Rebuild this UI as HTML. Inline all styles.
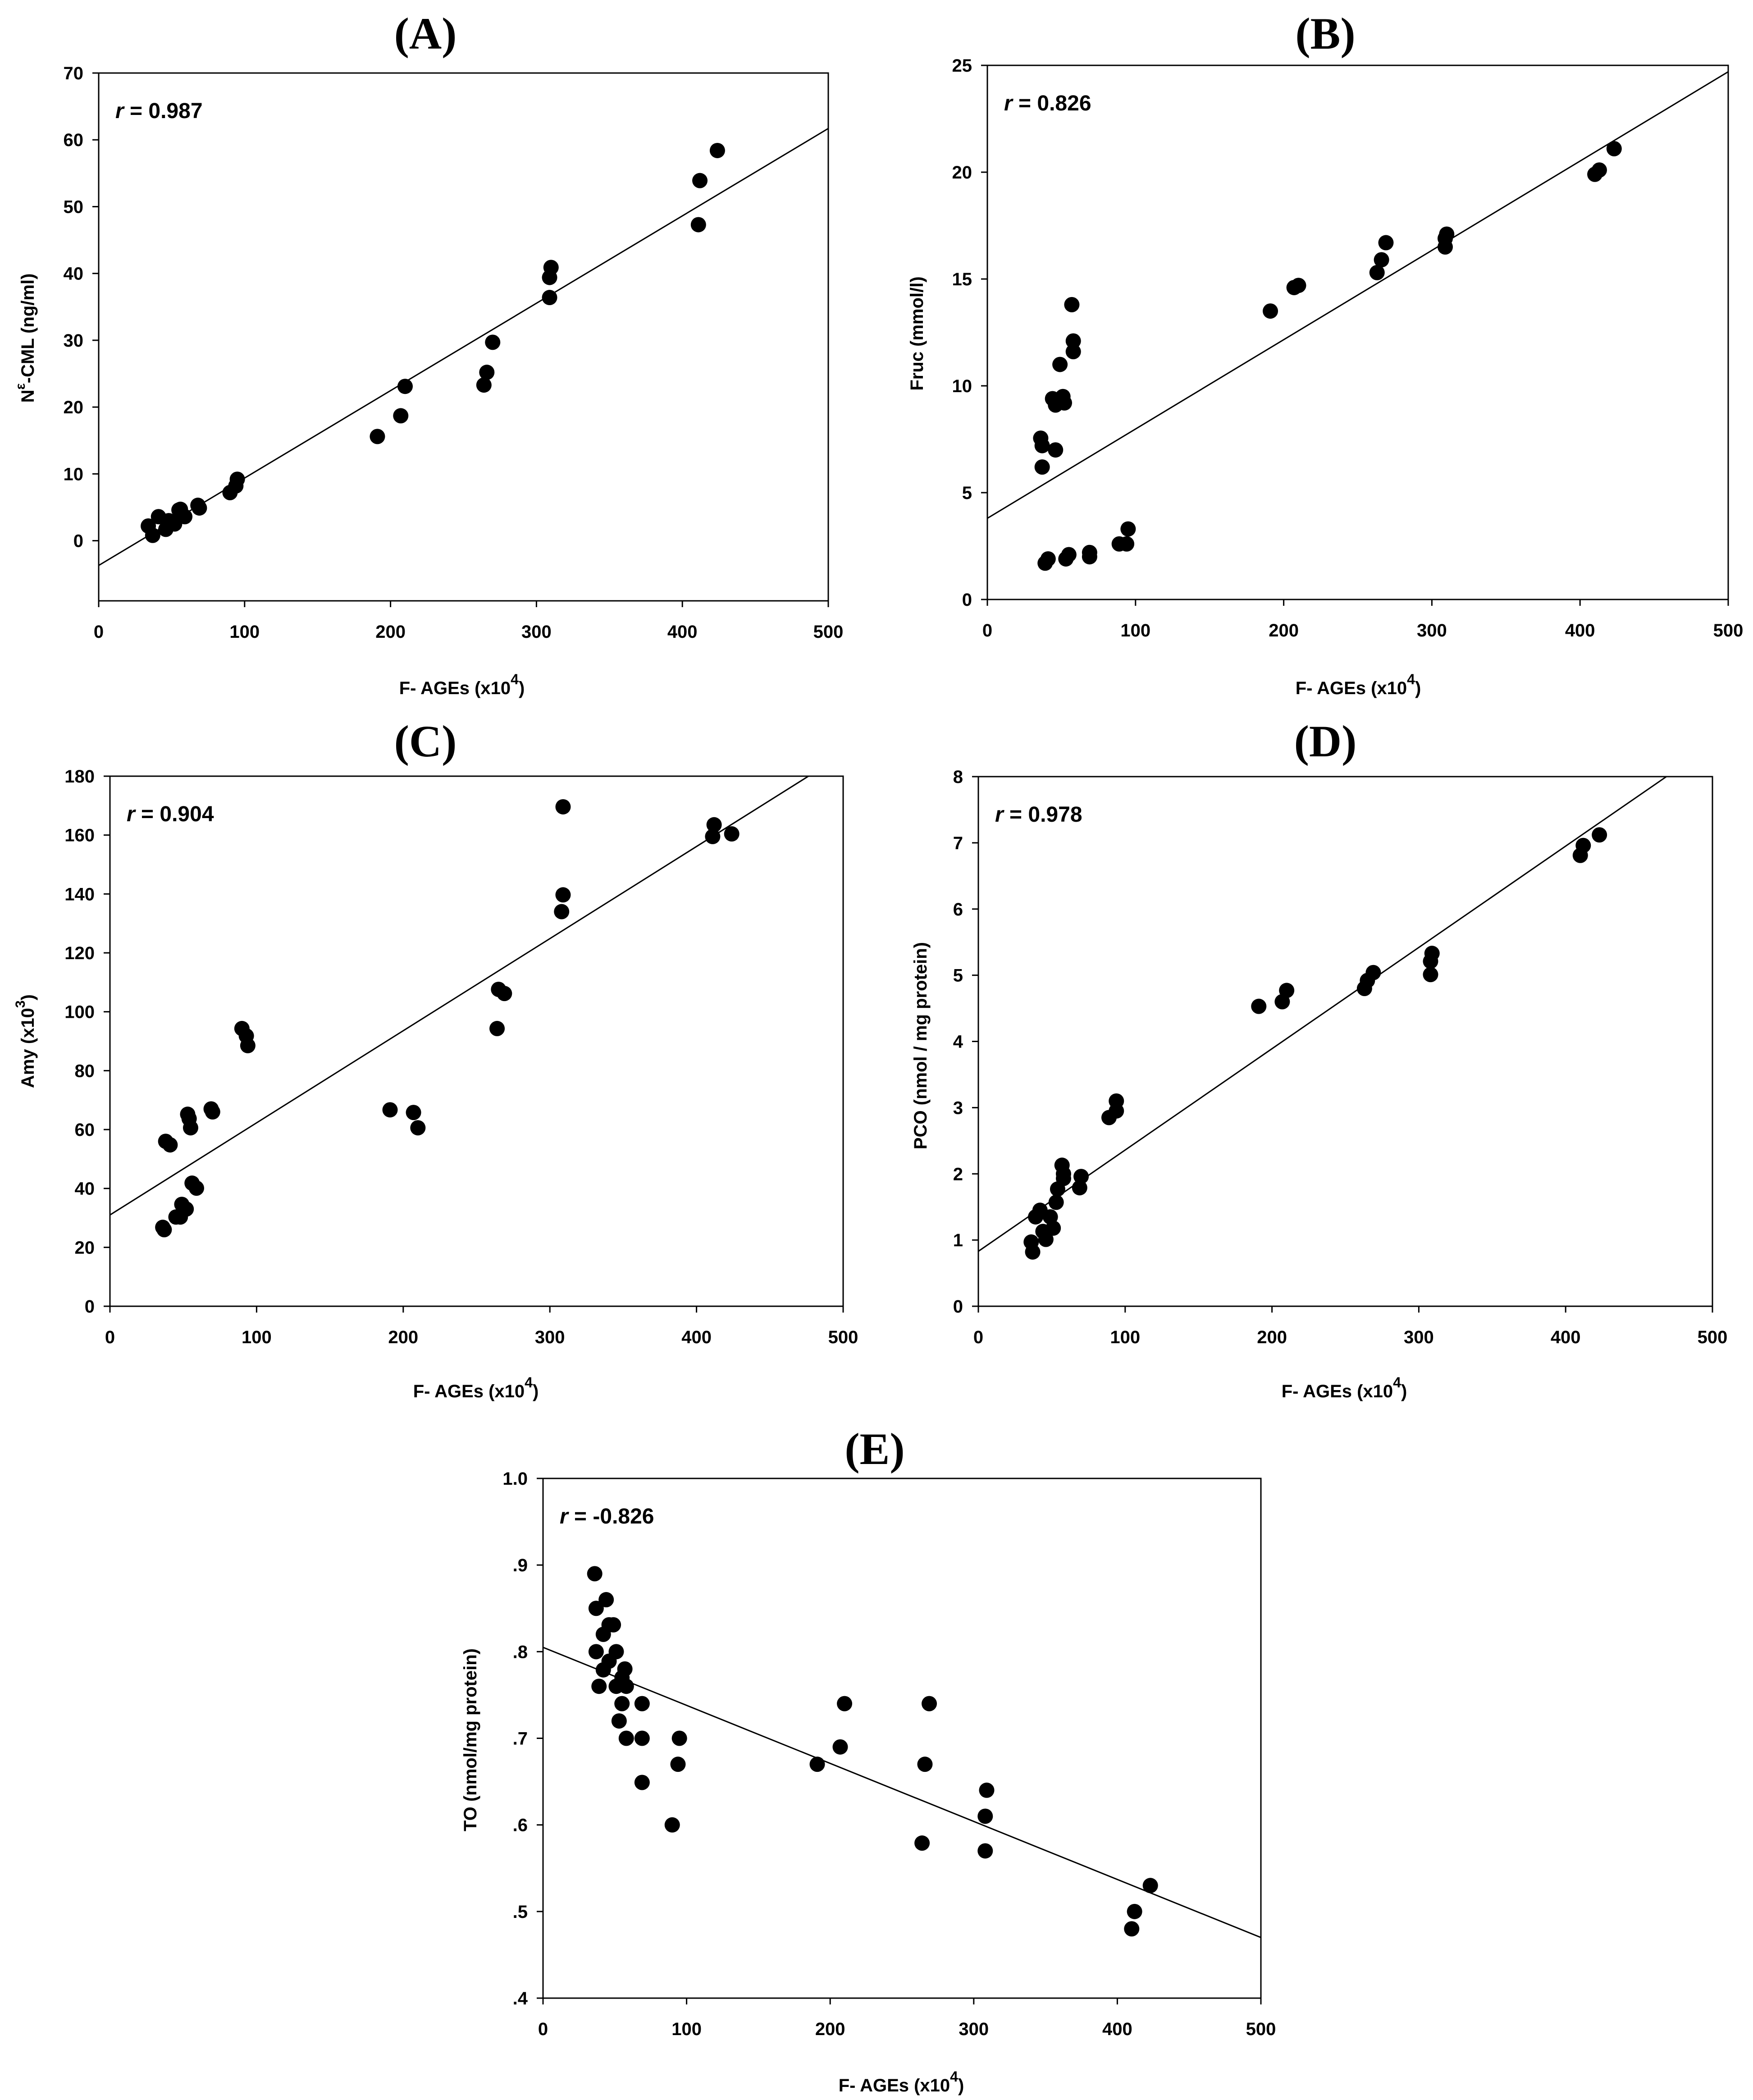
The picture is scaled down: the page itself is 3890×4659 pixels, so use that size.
<!DOCTYPE html>
<html><head><meta charset="utf-8"><style>
html,body{margin:0;padding:0;background:#fff;}
svg{display:block;}
.tick{font-family:"Liberation Sans",Arial,sans-serif;font-weight:bold;font-size:40px;fill:#000;}
.ttl{font-family:"Liberation Serif","Times New Roman",serif;font-weight:bold;font-size:100px;fill:#000;}
.axt{font-family:"Liberation Sans",Arial,sans-serif;font-weight:bold;font-size:40px;fill:#000;}
.rlab{font-family:"Liberation Sans",Arial,sans-serif;font-weight:bold;font-size:48px;fill:#000;}
</style></head><body>
<svg id="fig" width="3890" height="4659" viewBox="0 0 3890 4659" xmlns="http://www.w3.org/2000/svg"></svg>
<script>
// ---- Data (x = F-AGEs x10^4) ----
const aX = [34,37,41,46,48,52,55,56,59,69,68,90,95,94,191,207,210,264,266,270,309,309,310,411,412,424];
const aY = [2.2,0.8,3.6,1.7,3.0,2.5,4.6,4.7,3.6,4.9,5.3,7.2,9.2,8.2,15.6,18.7,23.1,23.3,25.2,29.7,36.4,39.4,40.9,47.3,53.9,58.4];
const aLine = [-3.7,61.7];
const bX = [36,37,37,46,44,46,51,52,49,57,58,58,39,41,53,55,69,69,89,94,95,191,207,210,263,266,269,309,309,310,410,413,423];
const bY = [7.55,7.2,6.2,7.0,9.4,9.1,9.5,9.2,11.0,13.8,12.1,11.6,1.7,1.9,1.9,2.1,2.2,2.0,2.6,2.6,3.3,13.5,14.6,14.7,15.3,15.9,16.7,16.5,16.9,17.1,19.9,20.1,21.1];
const bLine = [3.8,24.7];
const cX = [36,37,38,41,45,48,49,52,53,54,55,56,59,69,70,90,93,94,191,207,210,264,265,269,308,309,309,411,412,424];
const cY = [26.8,26,56,54.8,30.3,30.3,34.6,33,65.2,63.7,60.6,41.8,40.1,67,66,94.3,91.8,88.5,66.7,65.8,60.6,94.3,107.6,106.2,134,139.7,169.6,159.5,163.5,160.4];
const cLine = [31,187.4];
const dX = [36,37,39,42,44,46,49,51,53,54,57,58,58,69,70,89,94,94,191,207,210,263,265,269,308,308,309,410,412,423];
const dY = [0.97,0.82,1.35,1.45,1.13,1.01,1.35,1.18,1.57,1.77,2.13,2.0,1.93,1.79,1.96,2.85,2.95,3.1,4.53,4.6,4.77,4.8,4.92,5.04,5.01,5.21,5.33,6.81,6.96,7.12];
const dLine = [0.83,8.48];
const eX = [36,37,37,39,42,42,44,46,46,49,51,51,53,55,55,57,58,58,69,69,69,90,94,95,191,207,210,264,266,269,308,308,309,410,412,423];
const eY = [.890,.850,.800,.760,.820,.779,.860,.831,.789,.831,.800,.760,.720,.740,.770,.780,.760,.700,.740,.700,.649,.600,.670,.700,.670,.690,.740,.579,.670,.740,.570,.610,.640,.480,.500,.530];
const eLine = [.805,.470];
const xTicks = [0,100,200,300,400,500];
const aTicks = [0,10,20,30,40,50,60,70];
const bTicks = [0,5,10,15,20,25];
const cTicks = [0,20,40,60,80,100,120,140,160,180];
const dTicks = [0,1,2,3,4,5,6,7,8];
const eTicks = [.4,.5,.6,.7,.8,.9,1.0];
const eTickLabels = [".4",".5",".6",".7",".8",".9","1.0"];

const NS = "http://www.w3.org/2000/svg";
const fig = document.getElementById('fig');
function mk(tag, attrs, parent){const e=document.createElementNS(NS,tag);for(const k in attrs)e.setAttribute(k,attrs[k]);(parent||fig).appendChild(e);return e;}

function panel(p){
  const g = mk('g',{});
  
  
  const sx = v => p.x0 + (v - 0)/(500)*(p.x1-p.x0);
  const sy = v => p.yb + (v - p.ymin)/(p.ymax-p.ymin)*(p.yt-p.yb);
  const t = mk('text',{x:p.tx,y:p.ty,'text-anchor':'middle',class:'ttl'},g);
  t.textContent = '('+p.id.toUpperCase()+')';
  
  
  const fr = mk('rect',{x:p.x0,y:p.yt,width:p.x1-p.x0,height:p.yb-p.yt,fill:'none',stroke:'#000','stroke-width':3},g);
  
  
  xTicks.forEach(v=>{
    const x=sx(v);
    mk('line',{x1:x,y1:p.yb,x2:x,y2:p.yb+14,stroke:'#000','stroke-width':3},g);
    const tl=mk('text',{x:x,y:p.yb+82,'text-anchor':'middle',class:'tick'},g);
    tl.textContent=v;
    
    
  });
  p.yTicks.forEach((v,i)=>{
    const y=sy(v);
    mk('line',{x1:p.x0-14,y1:y,x2:p.x0,y2:y,stroke:'#000','stroke-width':3},g);
    const tl=mk('text',{x:p.x0-34,y:y+14,'text-anchor':'end',class:'tick'},g);
    tl.textContent=p.yLabels?p.yLabels[i]:v;
    
    
  });
  const cp = mk('clipPath',{id:'clip'+p.id},g);
  mk('rect',{x:p.x0,y:p.yt,width:p.x1-p.x0,height:p.yb-p.yt},cp);
  const ln = mk('line',{x1:sx(0),y1:sy(p.line[0]),x2:sx(500),y2:sy(p.line[1]),stroke:'#000','stroke-width':3,'clip-path':'url(#clip'+p.id+')'},g);
  
  
  p.xs.forEach((xv,i)=>{
    const c = mk('circle',{cx:sx(xv),cy:sy(p.ys[i]),r:17,fill:'#000'},g);
    
    
  });
  const r = mk('text',{x:p.x0+37,y:p.yt+100,class:'rlab'},g);
  
  
  const ri = mk('tspan',{'font-style':'italic'},r); ri.textContent='r';
  const rv = mk('tspan',{},r); rv.textContent=' = '+p.r;
  const xt = mk('text',{x:p.xtx,y:p.xty,'text-anchor':'middle',class:'axt'},g);
  
  
  const a1=mk('tspan',{},xt); a1.textContent='F- AGEs (x10';
  const a2=mk('tspan',{dy:-22,'font-size':'32px'},xt); a2.textContent='4';
  const a3=mk('tspan',{dy:22},xt); a3.textContent=')';
  const yt = mk('text',{x:0,y:0,'text-anchor':'middle',class:'axt',transform:'translate('+p.ylx+','+p.yly+') rotate(-90)'},g);
  
  
  p.yTitle.forEach(s=>{const ts=mk('tspan',s.dy!==undefined?{dy:s.dy,'font-size':s.fs||'40px'}:{},yt);ts.textContent=s.t;});
}

panel({id:'a',x0:219,x1:1838,yt:162,yb:1333,ymin:-9,ymax:70,yTicks:aTicks,xs:aX,ys:aY,line:aLine,r:'0.987',
  tx:944,ty:108,xtx:1025,xty:1540,ylx:75,yly:750,
  yTitle:[{t:'N'},{t:'ε',dy:-20,fs:'30px'},{t:'-CML (ng/ml)',dy:20}]});
panel({id:'b',x0:2191,x1:3835,yt:145,yb:1330,ymin:0,ymax:25,yTicks:bTicks,xs:bX,ys:bY,line:bLine,r:'0.826',
  tx:2941,ty:108,xtx:3014,xty:1540,ylx:2048,yly:740,
  yTitle:[{t:'Fruc (mmol/l)'}]});
panel({id:'c',x0:244,x1:1871,yt:1722,yb:2898,ymin:0,ymax:180,yTicks:cTicks,xs:cX,ys:cY,line:cLine,r:'0.904',
  tx:944,ty:1678,xtx:1056,xty:3100,ylx:75,yly:2310,
  yTitle:[{t:'Amy (x10'},{t:'3',dy:-20,fs:'30px'},{t:')',dy:20}]});
panel({id:'d',x0:2171,x1:3800,yt:1723,yb:2898,ymin:0,ymax:8,yTicks:dTicks,xs:dX,ys:dY,line:dLine,r:'0.978',
  tx:2941,ty:1678,xtx:2983,xty:3100,ylx:2056,yly:2320,
  yTitle:[{t:'PCO (nmol / mg protein)'}]});
panel({id:'e',x0:1205,x1:2798,yt:3280,yb:4433,ymin:.4,ymax:1.0,yTicks:eTicks,yLabels:eTickLabels,xs:eX,ys:eY,line:eLine,r:'-0.826',
  tx:1941,ty:3248,xtx:2000,xty:4640,ylx:1057,yly:3860,
  yTitle:[{t:'TO (nmol/mg protein)'}]});
</script>
</body></html>
